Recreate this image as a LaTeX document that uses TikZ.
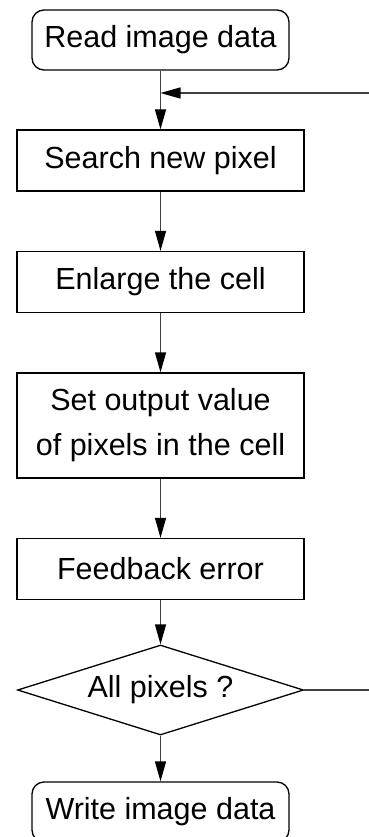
\documentclass[tikz,border=0pt]{standalone}
\usepackage{fontspec}
\setmainfont{Liberation Sans}
\usetikzlibrary{arrows.meta,shapes.geometric}
\begin{document}
\begin{tikzpicture}[x=1pt,y=-1pt,
    every node/.style={font=\fontsize{30.5}{45}\selectfont, line width=1.3pt, inner sep=0pt},
    term/.style={draw, rounded corners=12pt, minimum width=257pt, minimum height=60pt},
    proc/.style={draw, rectangle, minimum width=287pt, minimum height=61pt, align=center},
    test/.style={draw, diamond, minimum width=286pt, minimum height=90pt},
    flow/.style={draw=black!75, line width=1.3pt, -{Triangle[length=20pt,width=11pt,color=black]}}]
    \useasboundingbox (0,0) rectangle (368,837);
    \node (read) at (160.5,40) [term] {Read image data};
    \node (search) at (160.5,160.5) [proc] {Search new pixel};
    \node (enlarge) at (160.5,282) [proc] {Enlarge the cell};
    \node (setout) at (160.5,425.5) [proc, minimum height=105pt] {Set output value\\of pixels in the cell};
    \node (feedback) at (160.5,569) [proc] {Feedback error};
    \node (allpix) at (160.5,690) [test] {\makebox[0pt]{All pixels ?}};
    \node (write) at (160.5,812) [term] {Write image data};
    \coordinate (join) at (160.5,93);
    \coordinate (loopdown) at (372,690);
    \coordinate (loopup) at (372,93);
    \draw[flow] (read) -- (search);
    \draw[flow] (search) -- (enlarge);
    \draw[flow] (enlarge) -- (setout);
    \draw[flow] (setout) -- (feedback);
    \draw[flow] (feedback) -- (allpix);
    \draw[flow] (allpix) -- (write);
    \draw[flow] (allpix.east) -- (loopdown) -- (loopup) -- (join);
\end{tikzpicture}
\end{document}
